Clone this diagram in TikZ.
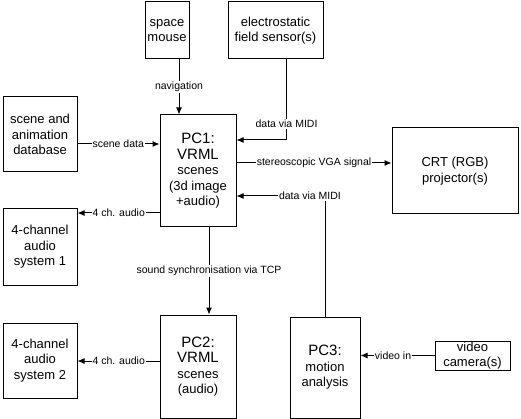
\documentclass[tikz,border=0pt]{standalone}
\usepackage{fontspec}
\setmainfont{Liberation Sans}
\usetikzlibrary{arrows.meta}
\definecolor{boxcol}{RGB}{0,0,0}
\definecolor{wirecol}{RGB}{0,0,0}
\newcommand{\ttl}[1]{{\fontsize{15}{15.5}\selectfont #1}}

\begin{document}
\begin{tikzpicture}[x=1pt, y=-1pt, line width=1pt,
  box/.style={draw=boxcol, rectangle, align=center, inner sep=0pt,
    font=\fontsize{13}{15.5}\selectfont},
  lbl/.style={fill=white, inner sep=1pt, font=\fontsize{10.5}{12}\selectfont},
  arr/.style={wirecol, -{Latex[length=7pt,width=6pt]}}]

\useasboundingbox (0,0) rectangle (521,419);

% ------------------------------------------------------------------
% Devices and computers (coordinates in pixels, y grows downwards)
% ------------------------------------------------------------------
\node[box, minimum width=44, minimum height=57] (mouse) at (167,30.5) {space\\mouse};
\node[box, minimum width=95, minimum height=57] (sensor) at (275.5,30.5) {electrostatic\\field sensor(s)};
\node[box, minimum width=74, minimum height=75] (db) at (40,134.5) {scene and\\animation\\database};
\node[box, minimum width=76, minimum height=112] (pc1) at (198,171)
  {\ttl{PC1:}\\\ttl{VRML}\\scenes\\(3d image\\+audio)};
\node[box, minimum width=126, minimum height=86] (crt) at (455,171) {CRT (RGB)\\projector(s)};
\node[box, minimum width=74, minimum height=76] (audio1) at (40,247) {4-channel\\audio\\system 1};
\node[box, minimum width=74, minimum height=75] (audio2) at (40,360.5) {4-channel\\audio\\system 2};
\node[box, minimum width=76, minimum height=103] (pc2) at (198,366.5)
  {\ttl{PC2:}\\\ttl{VRML}\\scenes\\(audio)};
\node[box, minimum width=70, minimum height=101] (pc3) at (325,367.5)
  {\ttl{PC3:}\\motion\\analysis};
\node[box, minimum width=75, minimum height=29] (camera) at (472.5,355.5) {video\\camera(s)};

% ------------------------------------------------------------------
% Connector end points off the node centres
% ------------------------------------------------------------------
\coordinate (navsrc) at ([xshift=12]mouse.south);
\coordinate (midisrc) at ([xshift=11]sensor.south);
\coordinate (midi1) at (286.5,140);
\coordinate (dbout) at (77,144);
\coordinate (vgaout) at ([yshift=8]pc1.east);
\coordinate (midi2) at (325,196);
\coordinate (aud1src) at (160,213);
\coordinate (syncsrc) at (209,227);
\coordinate (aud2src) at (160,361);

% ------------------------------------------------------------------
% Signals
% ------------------------------------------------------------------
\draw[arr] (navsrc) -- node[lbl]{navigation} (navsrc |- pc1.north);
\draw[arr] (midisrc) -- node[lbl, pos=0.8]{data via MIDI} (midi1) -- (midi1 -| pc1.east);
\draw[arr] (dbout) -- node[lbl]{scene data} (dbout -| pc1.west);
\draw[arr] (vgaout) -- node[lbl]{stereoscopic VGA signal} (vgaout -| crt.west);
\draw[arr] (pc3.north) -- (midi2) -- node[lbl, pos=0.17]{data via MIDI} (midi2 -| pc1.east);
\draw[arr] (aud1src) -- node[lbl]{4 ch. audio} (aud1src -| audio1.east);
\draw[arr] (syncsrc) -- node[lbl]{sound synchronisation via TCP} (syncsrc |- pc2.north);
\draw[arr] (aud2src) -- node[lbl]{4 ch. audio} (aud2src -| audio2.east);
\draw[arr] (camera.west) -- node[lbl, pos=0.56]{video in} (camera.west -| pc3.east);

\end{tikzpicture}
\end{document}
